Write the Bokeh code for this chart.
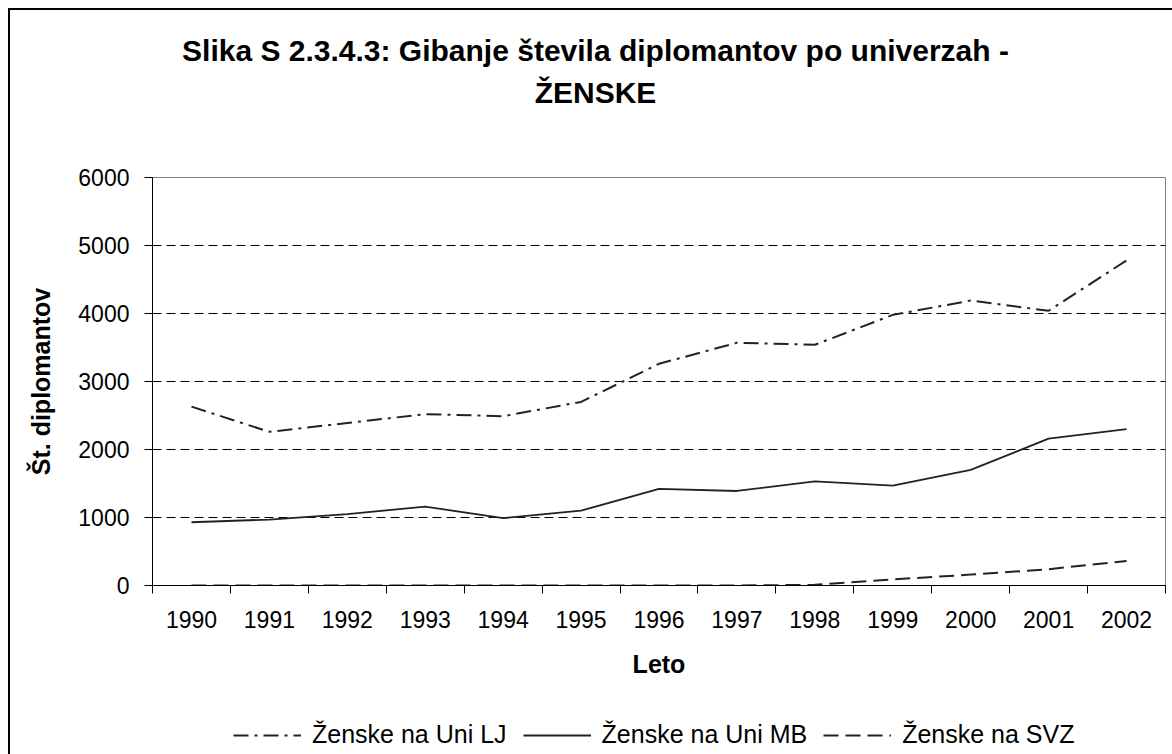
from bokeh.plotting import figure
from bokeh.models import FixedTicker, Legend, LegendItem, Range1d, Label
from bokeh.layouts import column
from bokeh.embed import file_html
from bokeh.resources import INLINE

# ---- data ----
years = [1990, 1991, 1992, 1993, 1994, 1995, 1996, 1997, 1998, 1999, 2000, 2001, 2002]
uni_lj = [2630, 2260, 2390, 2520, 2490, 2700, 3260, 3570, 3540, 3980, 4190, 4040, 4780]
uni_mb = [930, 970, 1050, 1160, 990, 1100, 1420, 1390, 1530, 1470, 1700, 2160, 2300]
svz = [0, 0, 0, 0, 0, 0, 0, 0, 10, 90, 160, 240, 360]
y_ticks = [0, 1000, 2000, 3000, 4000, 5000, 6000]
grid_ticks = [1000, 2000, 3000, 4000, 5000]
title_lines = ["Slika S 2.3.4.3: Gibanje števila diplomantov po univerzah -", "ŽENSKE"]
series_names = ["Ženske na Uni LJ", "Ženske na Uni MB", "Ženske na SVZ"]

FONT = "Liberation Sans"
W = 1172
H_TITLE, H_MAIN, H_LEG = 130, 585, 39
FRAME_LEFT = 152
LINE_COLOR = "#222222"
styles_lj = dict(line_color=LINE_COLOR, line_width=2, line_dash="15 6 3 6")
styles_mb = dict(line_color=LINE_COLOR, line_width=1.8)
styles_svz = dict(line_color=LINE_COLOR, line_width=2, line_dash="15 7")
LEFT_EDGE = "inset 8px 0 0 0 #fff, inset 10px 0 0 0 #000"
TOP_LEFT_EDGE = "inset 8px 8px 0 0 #fff, inset 10px 10px 0 0 #000"


def blank_fig(h, edge):
    f = figure(width=W, height=h, output_backend="svg", toolbar_location=None,
               x_range=Range1d(0, 1), y_range=Range1d(0, 1),
               x_axis_location=None, y_axis_location=None,
               min_border_left=0, min_border_right=0, min_border_top=0, min_border_bottom=0)
    f.border_fill_color = None
    f.background_fill_color = None
    f.outline_line_color = None
    f.grid.visible = False
    f.styles = {"box-shadow": edge}
    return f


# ---- title strip (its frame is aligned with the main frame by the column) ----
pt = blank_fig(H_TITLE, TOP_LEFT_EDGE)
for txt, yb in zip(title_lines, [80, 38]):
    pt.add_layout(Label(x=595 - FRAME_LEFT, y=yb, x_units="screen", y_units="screen", text=txt,
                        text_font=FONT, text_font_size="30px", text_font_style="bold",
                        text_color="black", text_align="center", text_baseline="alphabetic"))

# ---- main chart ----
p = figure(width=W, height=H_MAIN, output_backend="svg", toolbar_location=None,
           x_range=Range1d(years[0] - 0.5, years[-1] + 0.5),
           y_range=Range1d(y_ticks[0], y_ticks[-1]),
           min_border_left=FRAME_LEFT, min_border_right=7, min_border_top=177 - H_TITLE,
           min_border_bottom=H_TITLE + H_MAIN - 585)
p.border_fill_color = None
p.background_fill_color = "white"
p.outline_line_color = "#808080"
p.outline_line_width = 1
p.styles = {"box-shadow": LEFT_EDGE}

p.xaxis.ticker = FixedTicker(ticks=years, minor_ticks=[y - 0.5 for y in years] + [years[-1] + 0.5])
p.xaxis.major_tick_out = 0
p.xaxis.major_tick_in = 0
p.xaxis.minor_tick_out = 8
p.xaxis.minor_tick_in = 0
p.xaxis.minor_tick_line_color = "black"
p.xaxis.axis_line_color = "black"
p.xaxis.major_label_text_font = FONT
p.xaxis.major_label_text_font_size = "23px"
p.xaxis.major_label_text_color = "black"
p.xaxis.major_label_standoff = 17
p.xaxis.axis_label = "Leto"
p.xaxis.axis_label_text_font = FONT
p.xaxis.axis_label_text_font_size = "25px"
p.xaxis.axis_label_text_font_style = "bold"
p.xaxis.axis_label_text_color = "black"
p.xaxis.axis_label_standoff = 19

p.yaxis.ticker = FixedTicker(ticks=y_ticks)
p.yaxis.major_tick_out = 8
p.yaxis.major_tick_in = 0
p.yaxis.minor_tick_out = 0
p.yaxis.minor_tick_in = 0
p.yaxis.axis_line_color = "black"
p.yaxis.major_tick_line_color = "black"
p.yaxis.major_label_text_font = FONT
p.yaxis.major_label_text_font_size = "23px"
p.yaxis.major_label_text_color = "black"
p.yaxis.major_label_standoff = 15
p.yaxis.axis_label = "Št. diplomantov"
p.yaxis.axis_label_text_font = FONT
p.yaxis.axis_label_text_font_size = "25px"
p.yaxis.axis_label_text_font_style = "bold"
p.yaxis.axis_label_text_color = "black"
p.yaxis.axis_label_standoff = 20

p.xgrid.visible = False
p.ygrid.ticker = FixedTicker(ticks=grid_ticks)
p.ygrid.grid_line_color = "black"
p.ygrid.grid_line_dash = "9 5"
p.ygrid.grid_line_width = 1

p.line(years, uni_lj, **styles_lj)
p.line(years, uni_mb, **styles_mb)
p.line(years, svz, **styles_svz)

# ---- legend strip (series re-drawn out of view; only their legend samples show) ----
pl = blank_fig(H_LEG, LEFT_EDGE)
k_lj = pl.line(years, uni_lj, **styles_lj)
k_mb = pl.line(years, uni_mb, **styles_mb)
k_svz = pl.line(years, svz, **styles_svz)
legend = Legend(items=[LegendItem(label=series_names[0], renderers=[k_lj]),
                       LegendItem(label=series_names[1], renderers=[k_mb]),
                       LegendItem(label=series_names[2], renderers=[k_svz])],
                orientation="horizontal", location=(233 - FRAME_LEFT, 5),
                label_text_font=FONT, label_text_font_size="25px", label_text_color="black",
                glyph_width=68, glyph_height=20, label_standoff=11, spacing=16,
                padding=0, margin=0, border_line_color=None, background_fill_color=None)
pl.add_layout(legend, "center")

layout = column(pt, p, pl, spacing=0)
open("out.html", "w").write(file_html(layout, INLINE))
